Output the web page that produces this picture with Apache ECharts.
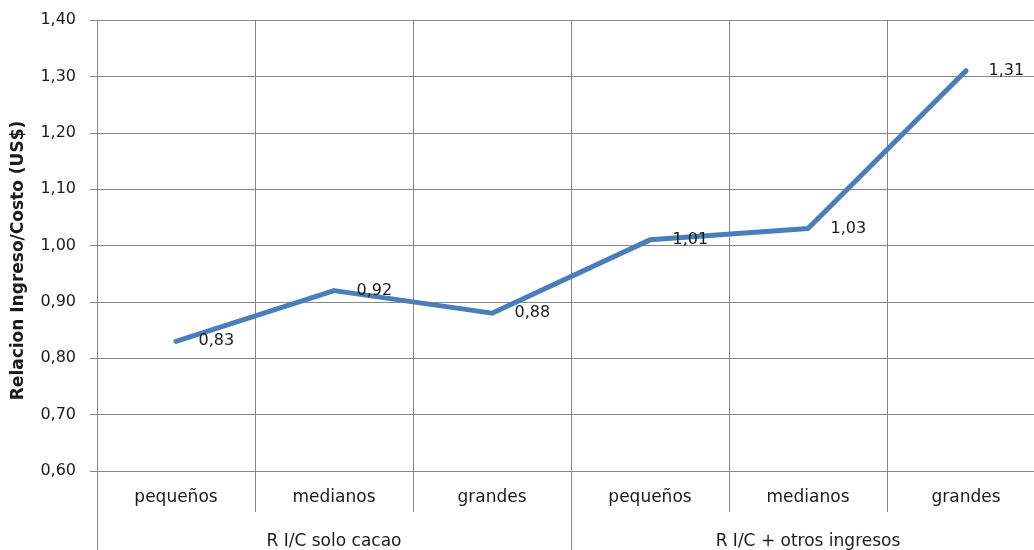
<!DOCTYPE html>
<html><head><meta charset="utf-8">
<script src="https://cdn.jsdelivr.net/npm/echarts@6/dist/echarts.min.js"></script>
<style>html,body{margin:0;padding:0;background:#fff;overflow:hidden}#c{width:1060px;height:550px}</style>
</head><body><div id="c"></div>
<script>
const categories = ['pequeños','medianos','grandes','pequeños','medianos','grandes'];
const groups = ['R I/C solo cacao','R I/C + otros ingresos'];
const values = [0.83, 0.92, 0.88, 1.01, 1.03, 1.31];
const yTitle = 'Relacion Ingreso/Costo (US$)';

const gray = '#878787';
const txt = '#1a1a1a';
const font = 'DejaVu Sans';
const fmt = v => Number(v).toFixed(2).replace('.', ',');

const chart = echarts.init(document.getElementById('c'), null, {renderer:'canvas'});
chart.setOption({
  animation: false,
  grid: {left: 97, top: 20, width: 948, height: 451, containLabel: false},
  xAxis: [{
    type: 'category', data: categories, boundaryGap: true, position: 'bottom',
    axisLine: {show: true, lineStyle: {color: gray, width: 1}},
    axisTick: {show: true, interval: 0, length: 41, lineStyle: {color: gray, width: 1}},
    splitLine: {show: true, interval: 0, lineStyle: {color: gray, width: 1}},
    axisLabel: {interval: 0, margin: 18, color: txt, fontFamily: font, fontSize: 17}
  },{
    type: 'category', data: groups, boundaryGap: true, position: 'bottom', offset: 41,
    axisLine: {show: false},
    axisTick: {show: true, interval: 0, length: 40, lineStyle: {color: gray, width: 1}},
    splitLine: {show: false},
    axisLabel: {interval: 0, margin: 21, color: txt, fontFamily: font, fontSize: 17}
  }],
  yAxis: {
    type: 'value', min: 0.6, max: 1.4, interval: 0.1,
    name: yTitle, nameLocation: 'middle', nameGap: 70, nameRotate: 90,
    nameTextStyle: {color: txt, fontFamily: font, fontSize: 17, fontWeight: 'bold', padding: [0, 30, 0, 0]},
    axisLine: {show: true, lineStyle: {color: gray, width: 1}},
    axisTick: {show: true, length: 7, lineStyle: {color: gray, width: 1}},
    splitLine: {show: true, lineStyle: {color: gray, width: 1}},
    axisLabel: {margin: 21, color: txt, fontFamily: font, fontSize: 16, formatter: fmt}
  },
  series: [{
    type: 'line', data: values, xAxisIndex: 0, showSymbol: true, symbol: 'circle', symbolSize: 1,
    itemStyle: {color: 'rgba(0,0,0,0)', borderWidth: 0},
    lineStyle: {color: '#4A7EBB', width: 5, cap: 'round', join: 'round'},
    labelLayout: {hideOverlap: false},
    label: {show: true, position: 'right', distance: 22, offset: [0, 3],
      color: txt, fontFamily: font, fontSize: 16, formatter: p => fmt(p.value)}
  }]
});
</script></body></html>
